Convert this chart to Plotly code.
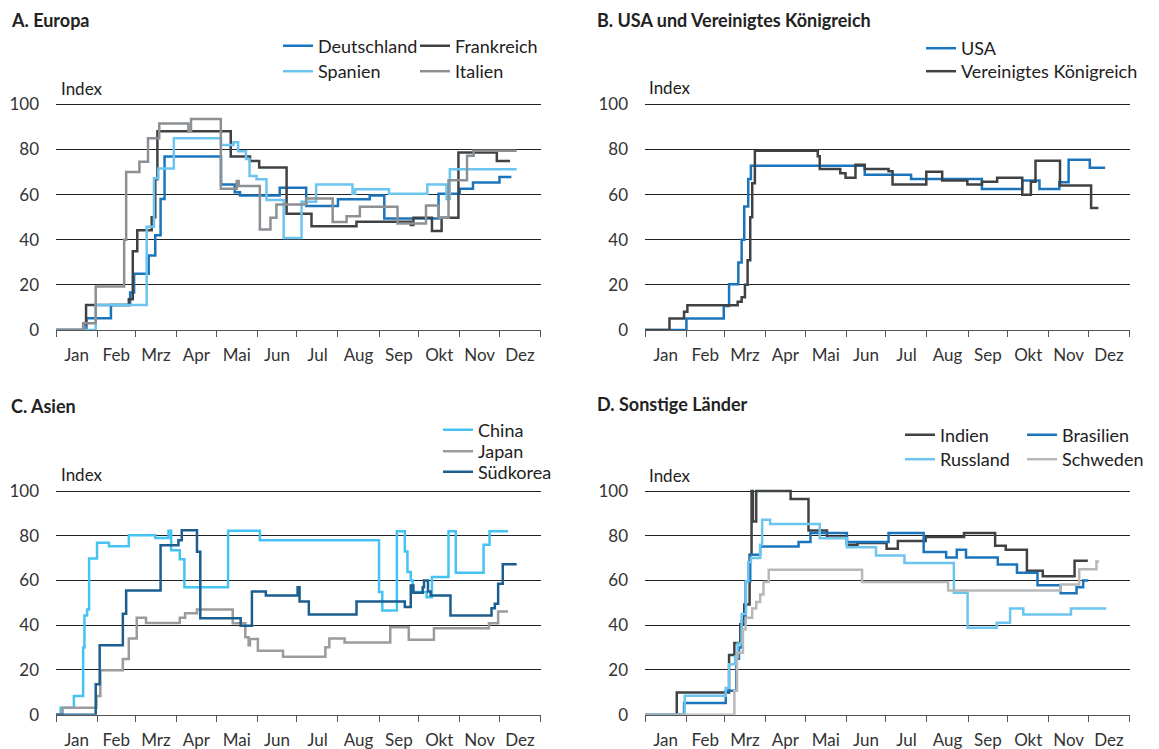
import plotly.graph_objects as go

# ---------------- data (day of year 2020, index value) ----------------
MONTHS = ["Jan", "Feb", "Mrz", "Apr", "Mai", "Jun", "Jul", "Aug", "Sep", "Okt", "Nov", "Dez"]
MONTH_STARTS = [0, 31, 60, 91, 121, 152, 182, 213, 244, 274, 305, 335, 366]
Y_TICKS = [0, 20, 40, 60, 80, 100]

# A. Europa
DE_DAYS = [0, 23, 41.5, 56, 59, 70, 75, 79, 82, 124.7, 135, 139, 169, 189, 213, 237, 248, 289, 305, 315, 335, 344]
DE_VALS = [0, 5.2, 11.1, 16.6, 24.9, 33, 42, 58, 76.9, 64.5, 61, 59.6, 63, 54.9, 57.9, 59.6, 49.4, 60.4, 62.6, 65.3, 67.8, 67.8]
FR_DAYS = [0, 20.6, 22.7, 55, 58, 61.4, 72.3, 75, 76.6, 132, 146.6, 153.5, 174.2, 193, 227, 268, 270, 284, 291.3, 304, 333, 343]
FR_VALS = [0, 2.7, 11.1, 13.6, 34.9, 44.2, 50, 66.8, 88, 76.9, 74.9, 72, 51.5, 46, 48, 46.5, 49.7, 43.8, 49.7, 78.6, 74.9, 74.9]
ES_DAYS = [0, 30, 68.5, 74, 77.3, 89, 124.7, 134, 137.6, 143.5, 146.2, 151.5, 159, 172, 185.5, 196.5, 224, 226, 251.5, 280.5, 295, 297.5, 348]
ES_VALS = [0, 11.1, 45.7, 67.2, 71.5, 84.9, 82, 83.2, 79.2, 75.7, 68.2, 66.8, 57.6, 40.8, 56.8, 64.5, 60.4, 62.3, 60.4, 64.5, 58, 71.2, 71.2]
IT_DAYS = [0, 20.5, 30, 51.5, 53, 63, 69.5, 78, 100, 102, 124.5, 136.5, 138, 154, 162, 166.5, 189, 209, 219.5, 229.5, 258, 279.5, 289, 296.5, 310.5, 315.5, 348]
IT_VALS = [0, 3, 19.3, 40, 70, 74.5, 84.9, 91.5, 88, 93.5, 62.6, 66, 63.8, 44.5, 49.7, 55.6, 58.2, 47.8, 50.4, 54.6, 47.2, 55.2, 49.7, 66.3, 77.2, 79.4, 79.4]

# B. USA und Vereinigtes Königreich
US_DAYS = [0, 31.3, 59.5, 63.5, 70.5, 73, 75, 78, 80, 166, 201, 254.5, 285, 298, 313, 320, 336, 347.6]
US_VALS = [0, 5.1, 10.6, 20.3, 29.9, 40, 54.7, 66.9, 72.8, 68.8, 66.9, 62.5, 66.2, 62.5, 65.4, 75.4, 71.9, 71.9]
UK_DAYS = [0, 18.5, 29.5, 32, 70, 73, 75.5, 77.5, 79.5, 81, 83, 130.5, 132, 147.5, 151.5, 159, 166, 184, 187, 212.5, 224.5, 243.5, 254.5, 266, 285, 291.5, 295, 313.5, 337, 342.5]
UK_VALS = [0, 5.1, 8.1, 11, 12.5, 14.5, 20, 30.9, 50, 65, 79.4, 77, 71.3, 69.4, 67.4, 73.2, 71.3, 70.3, 64.4, 70.1, 66.2, 64.4, 65.7, 67.4, 59.9, 65.7, 75, 64, 54, 54]

# C. Asien
CN_DAYS = [0, 3.5, 13.5, 20.5, 21.5, 23.5, 25, 31, 40, 55, 75, 85, 87, 93.5, 97, 130, 154, 244, 246.5, 257.5, 263.5, 265.5, 268, 269.5, 280, 284, 296.5, 302, 323, 327.5, 341.5]
CN_VALS = [0, 3.1, 8.4, 30, 44.3, 47, 69.8, 76.9, 75.3, 80.2, 79, 82.2, 73.5, 69.5, 57, 82.2, 78, 54.8, 46.6, 82, 73, 63.8, 60, 54.8, 52.5, 61.5, 82, 63.5, 76, 82, 82]
JP_DAYS = [0, 5, 30.5, 33.5, 50.5, 55, 61, 68, 93.5, 97.5, 106.5, 133.5, 143, 145.5, 146.5, 152.5, 171.5, 203.5, 206.5, 218, 252.5, 266.5, 285.5, 327, 334, 341.5]
JP_VALS = [0, 3.1, 8.4, 19.9, 24.9, 34.1, 43.3, 41, 43.3, 45.4, 47, 40.9, 34.6, 31, 33.8, 28.6, 25.9, 30.1, 34.1, 32.3, 39.1, 33.5, 38.6, 40.9, 46.1, 46.1]
KR_DAYS = [0, 30, 33, 50.5, 53, 79, 92.5, 95, 106.5, 109, 139.5, 148, 158.5, 182.5, 184, 191, 227, 263.5, 268, 270, 277, 278, 281, 283, 298, 329, 331.5, 334, 337.5, 348]
KR_VALS = [0, 13.6, 31.1, 45.1, 55.5, 75.7, 78, 82.5, 72.8, 43.1, 39.8, 55.1, 53.3, 57, 50.6, 44.8, 50.6, 48.1, 57.8, 54.5, 57, 60, 55.1, 53.3, 44.3, 47.6, 49.6, 58.5, 67.2, 67.2]

# D. Sonstige Länder
IN_DAYS = [0, 24, 63.5, 67.5, 72, 75, 79, 80.5, 81.5, 84, 110, 123.5, 137.5, 152.5, 160.5, 182.5, 191, 212, 241, 264.5, 272.5, 288.5, 300.5, 324.5, 334.5]
IN_VALS = [0, 9.9, 26.7, 32, 40.4, 49.3, 71.5, 100, 86.4, 100, 96.4, 82.3, 79.2, 76, 76.7, 74.2, 77.7, 79.4, 81.2, 75.5, 73.7, 64.4, 61.9, 68.8, 68.8]
BR_DAYS = [0, 29.5, 61, 69, 71, 73, 76, 79.5, 87, 116, 125, 152.5, 184, 210.5, 227.5, 235.5, 242.5, 266.5, 281, 296.5, 314, 326, 331, 335]
BR_VALS = [0, 5.2, 10.7, 25, 30, 41.8, 59.6, 71.5, 75.2, 77.2, 81.2, 77.2, 81.2, 72.7, 70.3, 73.7, 70.3, 67.1, 63.4, 57.9, 54.3, 57, 60, 60]
RU_DAYS = [0, 30, 61, 63.5, 68, 70, 73, 76.3, 78, 80, 87, 88.5, 94.5, 132, 152.5, 174.5, 196, 233.3, 243.7, 265.7, 275.8, 285.8, 321.8, 348.4]
RU_VALS = [0, 8.5, 11.9, 22.6, 26, 31.8, 45, 59.6, 68.2, 70, 76, 87.1, 85.2, 78.9, 74.8, 71.2, 67.8, 54.5, 38.9, 41.1, 47.5, 44.8, 47.5, 47.5]
SE_DAYS = [0, 67.5, 69.5, 74, 76, 81, 84, 87, 89.5, 93.5, 164, 229, 314, 328, 341, 343]
SE_VALS = [0, 10.7, 27.7, 38.1, 43.3, 47.5, 50.4, 53.7, 59.3, 64.8, 59.3, 55.5, 58.2, 65, 68.5, 68.5]

# ---------------- styling ----------------
W, H = 1159, 749
OFF = 8  # page body margin of the browser
FONT = "Lato"
BLUE = "#1b75bc"
DARK = "#3f4245"
LIGHTBLUE = "#6cc5ee"
GRAY = "#8c9093"
CHINA = "#45c3f3"
JAPAN = "#9b9b9b"
KOREA = "#1b5e8f"
LIGHTGRAY = "#b8b8b8"

def px_x(p):
    return (p - OFF) / W

def px_y(p):
    return 1 - (p - OFF) / H

XDOM_L = [px_x(56), px_x(540.5)]
XDOM_R = [px_x(645), px_x(1129.5)]
YDOM_T = [px_y(330), px_y(102.0)]
YDOM_B = [px_y(714.7), px_y(488.76)]

# (days, values, name, colour, panel index, legend line-start px, legend y-centre px)
SERIES = [
    (DE_DAYS, DE_VALS, "Deutschland", BLUE, 1, 284, 46),
    (FR_DAYS, FR_VALS, "Frankreich", DARK, 1, 421, 46),
    (ES_DAYS, ES_VALS, "Spanien", LIGHTBLUE, 1, 284, 71.5),
    (IT_DAYS, IT_VALS, "Italien", GRAY, 1, 421, 71.5),
    (US_DAYS, US_VALS, "USA", BLUE, 2, 927, 48.5),
    (UK_DAYS, UK_VALS, "Vereinigtes Königreich", DARK, 2, 927, 71.5),
    (CN_DAYS, CN_VALS, "China", CHINA, 3, 444, 430),
    (JP_DAYS, JP_VALS, "Japan", JAPAN, 3, 444, 451.5),
    (KR_DAYS, KR_VALS, "Südkorea", KOREA, 3, 444, 472),
    (IN_DAYS, IN_VALS, "Indien", DARK, 4, 906, 435),
    (BR_DAYS, BR_VALS, "Brasilien", BLUE, 4, 1028, 435),
    (RU_DAYS, RU_VALS, "Russland", LIGHTBLUE, 4, 906, 459.5),
    (SE_DAYS, SE_VALS, "Schweden", LIGHTGRAY, 4, 1028, 459.5),
]

fig = go.Figure()
layout_legends = {}
for i, (dd, vv, name, col, panel, lx, ly) in enumerate(SERIES):
    lg = "legend" if i == 0 else f"legend{i + 1}"
    sfx = "" if panel == 1 else str(panel)
    fig.add_trace(go.Scatter(
        x=dd, y=vv, name=name, mode="lines",
        line=dict(color=col, width=2.5, shape="hv"),
        xaxis="x" + sfx, yaxis="y" + sfx, legend=lg,
        hoverinfo="skip",
    ))
    layout_legends[lg] = dict(
        x=px_x(lx - 6), y=px_y(ly), xanchor="left", yanchor="middle",
        bgcolor="rgba(0,0,0,0)", borderwidth=0,
        font=dict(family=FONT, size=18, color="#222"),
        itemclick=False, itemdoubleclick=False,
    )

mids = [(MONTH_STARTS[k] + MONTH_STARTS[k + 1]) / 2 for k in range(12)]

def xaxis(dom, anchor):
    return dict(
        domain=dom, anchor=anchor, range=[0, 366], automargin=False,
        tickmode="array", tickvals=mids, ticktext=MONTHS, ticks="",
        ticklabelstandoff=10,
        tickfont=dict(family=FONT, size=17, color="#333"),
        showgrid=False, zeroline=False,
        showline=True, linecolor="#555", linewidth=1,
        minor=dict(tickmode="array", tickvals=MONTH_STARTS, ticks="outside",
                   ticklen=6, tickcolor="#555", tickwidth=1, showgrid=False),
        fixedrange=True,
    )

def yaxis(dom, anchor):
    return dict(
        domain=dom, anchor=anchor, range=[0, 101], automargin=False,
        tickmode="array", tickvals=Y_TICKS, ticks="",
        ticklabelstandoff=16,
        tickfont=dict(family=FONT, size=17, color="#333"),
        showgrid=True, gridcolor="#222", gridwidth=1,
        zeroline=False, showline=False, fixedrange=True,
    )

annotations = []
def text(xp, yp, s, bold=False, size=17, yanchor="middle"):
    annotations.append(dict(
        x=px_x(xp), y=min(1.0, px_y(yp)), xref="paper", yref="paper",
        xanchor="left", yanchor=yanchor, showarrow=False, borderpad=0,
        text=f"<b>{s}</b>" if bold else s,
        font=dict(family=FONT, size=size, color="#222"),
    ))

# top titles are anchored at the very top edge so their box stays inside the figure
text(10, OFF, "A. Europa", bold=True, size=18, yanchor="top")
text(596, OFF, "B. USA und Vereinigtes Königreich", bold=True, size=18, yanchor="top")
text(10, 406, "C. Asien", bold=True, size=18)
text(596, 403.5, "D. Sonstige Länder", bold=True, size=18)
for xp, yp in [(60, 88.5), (648, 88), (60, 474), (648, 475)]:
    text(xp, yp, "Index", size=17)

fig.update_layout(
    width=W, height=H,
    margin=dict(l=0, r=0, t=0, b=0, autoexpand=False),
    paper_bgcolor="white", plot_bgcolor="white",
    font=dict(family=FONT, size=16, color="#222"),
    showlegend=True,
    xaxis=xaxis(XDOM_L, "y"), yaxis=yaxis(YDOM_T, "x"),
    xaxis2=xaxis(XDOM_R, "y2"), yaxis2=yaxis(YDOM_T, "x2"),
    xaxis3=xaxis(XDOM_L, "y3"), yaxis3=yaxis(YDOM_B, "x3"),
    xaxis4=xaxis(XDOM_R, "y4"), yaxis4=yaxis(YDOM_B, "x4"),
    annotations=annotations,
    **layout_legends,
)

fig.write_html("out.html")
